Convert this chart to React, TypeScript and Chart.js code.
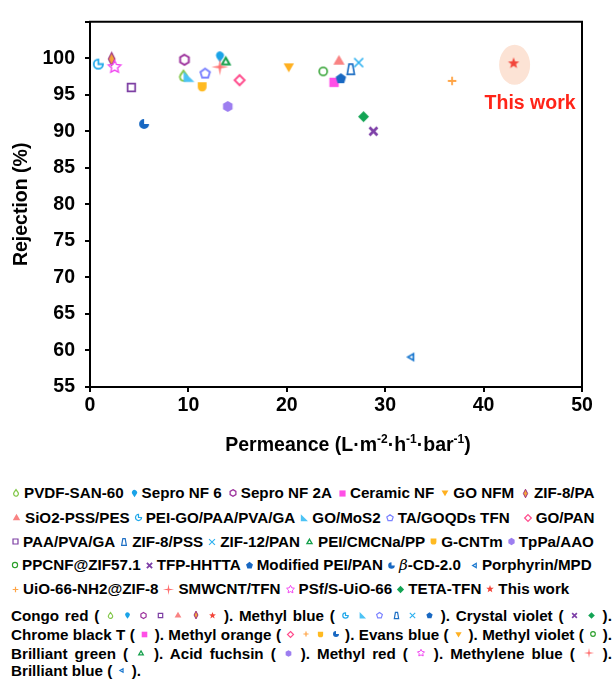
import React, { useEffect, useMemo, useRef } from 'react';
import { Chart, registerables } from 'chart.js';

Chart.register(...registerables);

const FONT = "'Liberation Sans', Arial, Helvetica, sans-serif";

// ---------------- data ----------------
const seriesNames = [
  'PVDF-SAN-60', 'Sepro NF 6', 'Sepro NF 2A', 'Ceramic NF', 'GO NFM', 'ZIF-8/PA',
  'SiO2-PSS/PES', 'PEI-GO/PAA/PVA/GA', 'GO/MoS2', 'TA/GOQDs TFN', 'GO/PAN',
  'PAA/PVA/GA', 'ZIF-8/PSS', 'ZIF-12/PAN', 'PEI/CMCNa/PP', 'G-CNTm', 'TpPa/AAO',
  'PPCNF@ZIF57.1', 'TFP-HHTTA', 'Modified PEI/PAN', 'β-CD-2.0', 'Porphyrin/MPD',
  'UiO-66-NH2@ZIF-8', 'SMWCNT/TFN', 'PSf/S-UiO-66', 'TETA-TFN', 'This work',
];
const permeance = [
  9.5, 13.2, 9.6, 24.8, 20.2, 2.2,
  25.3, 0.85, 10.0, 11.7, 15.2,
  4.2, 26.5, 27.3, 13.8, 11.4, 14.0,
  23.7, 28.8, 25.5, 5.5, 32.6,
  36.8, 13.2, 2.5, 27.8, 43.05,
];
const rejection = [
  97.6, 100.2, 99.8, 96.7, 98.75, 99.9,
  99.7, 99.2, 97.4, 97.9, 97.0,
  96.0, 98.5, 99.4, 99.6, 96.1, 93.4,
  98.2, 90.0, 97.2, 91.0, 59.1,
  96.9, 98.8, 98.8, 92.0, 99.3,
];
const xTickValues = [0, 10, 20, 30, 40, 50];
const yTickValues = [55, 60, 65, 70, 75, 80, 85, 90, 95, 100, 105];
const yTickHidden = [105];

const legendRows = [
  [0, 1, 2, 3, 4, 5],
  [6, 7, 8, 9, 10],
  [11, 12, 13, 14, 15, 16],
  [17, 18, 19, 20, 21],
  [22, 23, 24, 25, 26],
];
const captionLines: [string, number[]][][] = [
  [['Congo red', [0, 1, 2, 11, 6, 5, 26]], ['Methyl blue', [7, 8, 9, 12, 13, 19]], ['Crystal violet', [18, 25]]],
  [['Chrome black T', [3]], ['Methyl orange', [10, 22, 15, 20]], ['Evans blue', [4]], ['Methyl violet', [17]]],
  [['Brilliant green', [14]], ['Acid fuchsin', [16]], ['Methyl red', [24]], ['Methylene blue', [23]]],
  [['Brilliant blue', [21]]],
];

// ---------------- styles ----------------
const seriesShape = [
  'dropH', 'dropF', 'hexH', 'square', 'triDown', 'diamondThin',
  'triUp', 'pacmanH', 'rightTri', 'pentH', 'diamondH',
  'squareH', 'trapH', 'xThin', 'triUpH', 'shield', 'hexF',
  'circleH', 'xBold', 'pentF', 'pacmanF', 'triLeftH',
  'plus', 'sparkle', 'starH', 'diamondF', 'starF',
];
const seriesColor = [
  '#84C84B', '#1AA3E8', '#9B2F9B', '#FF4FE6', '#FFB020', '#9A2F80',
  '#F98383', '#20A8EA', '#4CC3F5', '#7C83FF', '#FF4D8D',
  '#7D3FA3', '#1E6FC4', '#2BB0F0', '#16A04C', '#FFBA21', '#9D7EF0',
  '#2DA02D', '#7E40A8', '#1868C2', '#1868C2', '#1E7AD0',
  '#FFA445', '#FF7070', '#F046F0', '#13A454', '#F2453A',
];
const seriesSize = [
  6, 5.5, 6, 5.5, 6, 6.5,
  6.5, 5.5, 6, 6, 6,
  5.5, 6, 6, 6.5, 5.5, 5.5,
  4.8, 5.5, 5.5, 5, 5.5,
  5, 8.5, 7, 5.5, 6,
];
const legendExtraGap: Record<number, number> = { 10: 9, 21: 5 };
const legendRowGap = [6, 4, 4, 4, 4];

function drawShape(ctx: CanvasRenderingContext2D, shape: string, color: string, r: number) {
  const lw = Math.max(1.2, r * 0.32);
  ctx.fillStyle = color;
  ctx.strokeStyle = color;
  ctx.lineWidth = lw;
  ctx.lineJoin = 'miter';
  ctx.lineCap = 'butt';
  const poly = (pts: number[][]) => {
    ctx.beginPath();
    pts.forEach(([x, y], i) => (i ? ctx.lineTo(x, y) : ctx.moveTo(x, y)));
    ctx.closePath();
  };
  const reg = (n: number, rr: number, start: number) =>
    poly(Array.from({ length: n }, (_, k) => {
      const a = start + (2 * Math.PI * k) / n;
      return [rr * Math.cos(a), rr * Math.sin(a)];
    }));
  const star = (n: number, ro: number, ri: number) =>
    poly(Array.from({ length: 2 * n }, (_, k) => {
      const a = -Math.PI / 2 + (Math.PI * k) / n;
      const rr = k % 2 ? ri : ro;
      return [rr * Math.cos(a), rr * Math.sin(a)];
    }));
  const h = r - lw / 2;
  switch (shape) {
    case 'dropH':
    case 'dropF': {
      const rr = shape === 'dropH' ? h : r;
      const cy = 0.25 * rr, rc = 0.72 * rr, ty = -rr, d = cy - ty, b = Math.acos(rc / d);
      if (shape === 'dropF') ctx.scale(1, -1);
      ctx.beginPath();
      ctx.arc(0, cy, rc, -Math.PI / 2 + b, 1.5 * Math.PI - b);
      ctx.lineTo(0, ty);
      ctx.closePath();
      if (shape === 'dropF') ctx.fill(); else ctx.stroke();
      break;
    }
    case 'hexH': reg(6, h, -Math.PI / 2); ctx.stroke(); break;
    case 'hexF': reg(6, r, -Math.PI / 2); ctx.fill(); break;
    case 'square': { const s = 0.85 * r; poly([[-s, -s], [s, -s], [s, s], [-s, s]]); ctx.fill(); break; }
    case 'squareH': { const s = 0.85 * r - lw / 2; poly([[-s, -s], [s, -s], [s, s], [-s, s]]); ctx.stroke(); break; }
    case 'triDown': ctx.translate(0, -0.15 * r); reg(3, r, Math.PI / 2); ctx.fill(); break;
    case 'triUp': ctx.translate(0, 0.15 * r); reg(3, r, -Math.PI / 2); ctx.fill(); break;
    case 'triUpH': ctx.translate(0, 0.15 * r); reg(3, r - lw, -Math.PI / 2); ctx.stroke(); break;
    case 'triLeftH': ctx.translate(0.15 * r, 0); reg(3, r - lw, Math.PI); ctx.stroke(); break;
    case 'rightTri': poly([[-0.8 * r, -0.95 * r], [-0.8 * r, 0.8 * r], [r, 0.8 * r]]); ctx.fill(); break;
    case 'pentH': reg(5, h, -Math.PI / 2); ctx.stroke(); break;
    case 'pentF': reg(5, r, -Math.PI / 2); ctx.fill(); break;
    case 'diamondH': poly([[0, -h], [h, 0], [0, h], [-h, 0]]); ctx.stroke(); break;
    case 'diamondF': poly([[0, -r], [r, 0], [0, r], [-r, 0]]); ctx.fill(); break;
    case 'diamondThin':
      poly([[0, -r], [0.5 * r, 0], [0, r], [-0.5 * r, 0]]);
      ctx.fillStyle = '#F5A33A';
      ctx.fill();
      ctx.lineWidth = Math.max(1, r * 0.18);
      ctx.stroke();
      break;
    case 'trapH':
      ctx.lineWidth = Math.max(1.2, r * 0.28);
      poly([[-0.3 * r, -0.85 * r], [0.3 * r, -0.85 * r], [0.6 * r, 0.85 * r], [-0.6 * r, 0.85 * r]]);
      ctx.stroke();
      break;
    case 'xThin': {
      const s = 0.75 * r;
      ctx.lineWidth = Math.max(1.1, r * 0.27);
      ctx.beginPath(); ctx.moveTo(-s, -s); ctx.lineTo(s, s); ctx.moveTo(s, -s); ctx.lineTo(-s, s); ctx.stroke();
      break;
    }
    case 'xBold': {
      const s = 0.72 * r;
      ctx.lineWidth = Math.max(1.6, r * 0.5);
      ctx.beginPath(); ctx.moveTo(-s, -s); ctx.lineTo(s, s); ctx.moveTo(s, -s); ctx.lineTo(-s, s); ctx.stroke();
      break;
    }
    case 'plus': {
      const s = 0.85 * r;
      ctx.lineWidth = Math.max(1.2, r * 0.36);
      ctx.beginPath(); ctx.moveTo(-s, 0); ctx.lineTo(s, 0); ctx.moveTo(0, -s); ctx.lineTo(0, s); ctx.stroke();
      break;
    }
    case 'shield':
      ctx.beginPath();
      ctx.moveTo(-0.8 * r, -0.8 * r);
      ctx.lineTo(0.8 * r, -0.8 * r);
      ctx.lineTo(0.8 * r, 0.05 * r);
      ctx.arc(0, 0.05 * r, 0.8 * r, 0, Math.PI);
      ctx.closePath();
      ctx.fill();
      break;
    case 'circleH': ctx.beginPath(); ctx.arc(0, 0, h, 0, 2 * Math.PI); ctx.stroke(); break;
    case 'pacmanH':
      ctx.beginPath(); ctx.moveTo(0, 0); ctx.arc(0, 0, h, 0, 1.5 * Math.PI); ctx.closePath(); ctx.stroke();
      break;
    case 'pacmanF':
      ctx.beginPath(); ctx.moveTo(0, 0); ctx.arc(0, 0, r, 0, 1.5 * Math.PI); ctx.closePath(); ctx.fill();
      break;
    case 'sparkle': star(4, r, 0.2 * r); ctx.fill(); break;
    case 'starH': ctx.lineWidth = Math.max(1, r * 0.2); star(5, r - 0.5, 0.45 * r); ctx.stroke(); break;
    case 'starF': star(5, r, 0.42 * r); ctx.fill(); break;
    default: ctx.beginPath(); ctx.arc(0, 0, r, 0, 2 * Math.PI); ctx.fill();
  }
}

function makeMarker(i: number, scale: number, pad: number): HTMLCanvasElement {
  const r = seriesSize[i] * scale;
  const S = Math.round(2 * r + pad);
  const c = document.createElement('canvas');
  c.width = S;
  c.height = S;
  const ctx = c.getContext('2d')!;
  ctx.translate(S / 2, S / 2);
  drawShape(ctx, seriesShape[i], seriesColor[i], r);
  return c;
}

const THIS_WORK = 26;

const decorPlugin = {
  id: 'decor',
  beforeDatasetsDraw(chart: any) {
    const { ctx, scales } = chart;
    const px = scales.x.getPixelForValue(permeance[THIS_WORK]);
    const py = scales.y.getPixelForValue(rejection[THIS_WORK]);
    ctx.save();
    ctx.fillStyle = '#FCE3D5';
    ctx.beginPath();
    ctx.ellipse(px + 1, py + 1.5, 15.5, 20, 0, 0, 2 * Math.PI);
    ctx.fill();
    ctx.restore();
  },
  afterDraw(chart: any) {
    const { ctx, chartArea: a, scales } = chart;
    ctx.save();
    // top and right frame
    ctx.strokeStyle = '#000';
    ctx.lineWidth = 2;
    ctx.beginPath();
    ctx.moveTo(a.left - 1, a.top);
    ctx.lineTo(a.right, a.top);
    ctx.lineTo(a.right, a.bottom + 1);
    ctx.stroke();

    // "This work" label
    const px = scales.x.getPixelForValue(permeance[THIS_WORK]);
    const py = scales.y.getPixelForValue(rejection[THIS_WORK]);
    ctx.fillStyle = '#FF2418';
    ctx.font = `bold 19.5px ${FONT}`;
    ctx.textAlign = 'center';
    ctx.textBaseline = 'middle';
    ctx.fillText('This work', px + 16.5, py + 40);

    // y title
    ctx.fillStyle = '#000';
    ctx.save();
    ctx.translate(22, (a.top + a.bottom) / 2);
    ctx.rotate(-Math.PI / 2);
    ctx.font = `bold 19.5px ${FONT}`;
    ctx.fillText('Rejection (%)', 0, 0);
    ctx.restore();

    // x title with superscripts
    const parts: [string, boolean][] = [
      ['Permeance (L·m', false], ['-2', true], ['·h', false], ['-1', true],
      ['·bar', false], ['-1', true], [')', false],
    ];
    const mainF = `bold 19.5px ${FONT}`;
    const supF = `bold 12px ${FONT}`;
    let total = 0;
    parts.forEach(([t, s]) => { ctx.font = s ? supF : mainF; total += ctx.measureText(t).width; });
    let x = (a.left + a.right) / 2 + 12 - total / 2;
    const base = a.bottom + 64;
    ctx.textAlign = 'left';
    ctx.textBaseline = 'alphabetic';
    parts.forEach(([t, s]) => {
      ctx.font = s ? supF : mainF;
      ctx.fillText(t, x, s ? base - 8 : base);
      x += ctx.measureText(t).width;
    });
    ctx.restore();
  },
};

function NameText({ name }: { name: string }) {
  if (name.startsWith('β')) {
    return (
      <span>
        <i style={{ fontFamily: "'DejaVu Serif', 'Liberation Serif', serif", fontWeight: 'normal' }}>β</i>
        {name.slice(1)}
      </span>
    );
  }
  return <span>{name}</span>;
}

export default function App() {
  const canvasRef = useRef<HTMLCanvasElement | null>(null);

  const legendImgs = useMemo(() => seriesNames.map((_, i) => {
    const c = makeMarker(i, 0.66, 2);
    return { src: c.toDataURL(), w: c.width };
  }), []);
  const captionImgs = useMemo(() => seriesNames.map((_, i) => {
    const c = makeMarker(i, 0.6, 2);
    return { src: c.toDataURL(), w: c.width };
  }), []);

  useEffect(() => {
    const canvas = canvasRef.current;
    if (!canvas) return;
    const tickFont = { family: FONT, size: 19.5, weight: 'bold' as const };
    const chart = new Chart(canvas, {
      type: 'scatter',
      data: {
        datasets: seriesNames.map((name, i) => ({
          label: name,
          data: [{ x: permeance[i], y: rejection[i] }],
          pointStyle: makeMarker(i, 1, 4) as any,
          pointRadius: seriesSize[i],
          showLine: false,
          order: -i,
        })),
      },
      options: {
        responsive: false,
        animation: false,
        devicePixelRatio: 1,
        layout: { padding: { left: 0, right: 33, top: 15, bottom: 0 } },
        plugins: { legend: { display: false }, tooltip: { enabled: false } },
        scales: {
          x: {
            type: 'linear',
            min: xTickValues[0],
            max: xTickValues[xTickValues.length - 1],
            afterBuildTicks: (s: any) => { s.ticks = xTickValues.map((v) => ({ value: v })); },
            afterFit: (s: any) => { s.height = 73; },
            ticks: { color: '#000', font: tickFont, padding: 2, maxRotation: 0 },
            grid: { display: true, drawOnChartArea: false, drawTicks: true, tickLength: 5, color: '#000', lineWidth: 2 },
            border: { display: true, color: '#000', width: 2 },
          },
          y: {
            type: 'linear',
            min: yTickValues[0],
            max: yTickValues[yTickValues.length - 1],
            afterBuildTicks: (s: any) => { s.ticks = yTickValues.map((v) => ({ value: v })); },
            afterFit: (s: any) => { s.width = 90; },
            ticks: {
              color: '#000',
              font: tickFont,
              padding: 10,
              callback: (v: any) => (yTickHidden.includes(Number(v)) ? '' : String(v)),
            },
            grid: { display: true, drawOnChartArea: false, drawTicks: true, tickLength: 5, color: '#000', lineWidth: 2 },
            border: { display: true, color: '#000', width: 2 },
          },
        },
      },
      plugins: [decorPlugin],
    });
    return () => chart.destroy();
  }, []);

  const rowCenters = [493, 517.5, 541.5, 565, 589];
  const captionCenters = [615, 634, 653, 670.5];

  return (
    <div style={{ position: 'absolute', left: 0, top: 0, width: 615, height: 679, background: '#fff', fontFamily: FONT, fontWeight: 'bold', color: '#000', overflow: 'hidden' }}>
      <canvas ref={canvasRef} width={615} height={460} style={{ position: 'absolute', left: 0, top: 0, width: 615, height: 460 }} />
      {legendRows.map((row, ri) => (
        <div key={ri} style={{ position: 'absolute', left: 11, top: rowCenters[ri] - 9, height: 18, display: 'flex', alignItems: 'center', whiteSpace: 'nowrap', fontSize: 15.2, lineHeight: '18px' }}>
          {row.map((si, k) => (
            <span key={si} style={{ display: 'inline-flex', alignItems: 'center', marginLeft: k === 0 ? 0 : legendRowGap[ri] + (legendExtraGap[si] || 0) }}>
              <img src={legendImgs[si].src} width={legendImgs[si].w} height={legendImgs[si].w} style={{ display: 'block' }} alt="" />
              <span style={{ marginLeft: 3 }}><NameText name={seriesNames[si]} /></span>
            </span>
          ))}
        </div>
      ))}
      {captionLines.map((line, li) => {
        const nodes: React.ReactNode[] = [];
        line.forEach(([label, idx], gi) => {
          nodes.push(`${gi > 0 ? ' ' : ''}${label} ( `);
          idx.forEach((si, mi) => {
            if (mi > 0) nodes.push(' ');
            nodes.push(
              <img key={`${gi}-${mi}`} src={captionImgs[si].src} width={captionImgs[si].w} height={captionImgs[si].w} style={{ display: 'inline-block', verticalAlign: 'middle', margin: '0 1px', position: 'relative', top: -1 }} alt="" />
            );
          });
          nodes.push(' ).');
        });
        const last = li === captionLines.length - 1;
        return (
          <div key={li} style={{ position: 'absolute', left: 11, top: captionCenters[li] - 9.5, width: 601, height: 19, fontSize: 15.2, lineHeight: '19px', whiteSpace: 'nowrap', textAlign: last ? 'left' : 'justify', textAlignLast: last ? 'left' : 'justify' } as any}>
            {nodes}
          </div>
        );
      })}
    </div>
  );
}
